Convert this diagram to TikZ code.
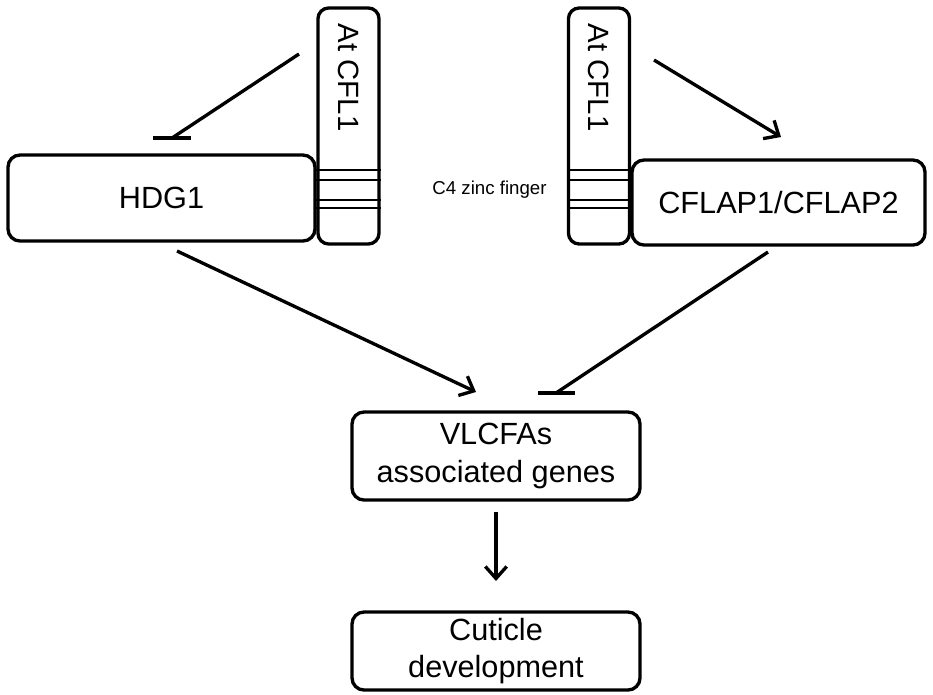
\documentclass[tikz,border=0pt]{standalone}
\usepackage{fontspec}
\setmainfont{Liberation Sans}
\usetikzlibrary{arrows.meta}

\tikzset{
	box/.style={draw, line width=2.5pt, rounded corners=9pt, align=center,
		font=\fontsize{23}{28}\selectfont},
	bar/.style={draw, line width=2.5pt, rounded corners=8pt,
		minimum width=45.75pt, minimum height=177pt},
	link/.style={line width=2.5pt},
	act/.style={link, -{Straight Barb[length=9pt, width=16pt]}},
}

\begin{document}
\begin{tikzpicture}[x=0.75pt, y=-0.75pt]
	\useasboundingbox (0,0) rectangle (933,694);

	% proteins
	\node [box, minimum width=230.25pt, minimum height=64.5pt] (hdg) at (161.5, 198) {HDG1};
	\node [bar] (cflL) at (348.5, 126) {};
	\node [bar] (cflR) at (599, 126) {};
	\node [box, minimum width=219.75pt, minimum height=63.75pt] (cflap) at (778.5, 202.5) {CFLAP1/CFLAP2};

	% targets
	\node [box, minimum width=216pt, minimum height=66pt] (vlcfa) at (496, 456) {VLCFAs\\associated genes};
	\node [box, minimum width=216pt, minimum height=58.5pt] (cuticle) at (496, 651) {Cuticle\\development};

	% At CFL1 labels
	\foreach \b in {cflL, cflR}
		\node [rotate=-90, anchor=west, inner sep=0pt, font=\fontsize{22}{26}\selectfont]
			(\b-label) at ([yshift=-13pt]\b.north) {At CFL1};

	% zinc finger stripes
	\foreach \b in {cflL, cflR}
		\foreach \y in {170, 180, 200, 208}
			\draw [line width=2pt] (\b.west |- 0,\y) -- (\b.east |- 0,\y);

	\node [font=\fontsize{14}{17}\selectfont] (zinc) at (489.5, 190) {C4 zinc finger};

	% connectors
	\coordinate (inhL-a) at (299, 54);
	\coordinate (inhL-b) at (172, 138);
	\coordinate (actR-a) at (654, 60);
	\coordinate (actR-b) at (781, 137);
	\coordinate (actV-a) at (177, 251);
	\coordinate (actV-b) at (476, 392);
	\coordinate (inhV-a) at (768, 252);
	\coordinate (inhV-b) at (556, 393);

	\draw [link] (inhL-a) -- (inhL-b);
	\draw [link] ([xshift=-14pt]inhL-b) -- ([xshift=14pt]inhL-b);
	\draw [act] (actR-a) -- (actR-b);
	\draw [act] (actV-a) -- (actV-b);
	\draw [link] (inhV-a) -- (inhV-b);
	\draw [link] ([xshift=-13.5pt]inhV-b) -- ([xshift=14pt]inhV-b);
	\draw [act] ([yshift=-7.5pt]vlcfa.south) -- ([yshift=22pt]cuticle.north);
\end{tikzpicture}
\end{document}
